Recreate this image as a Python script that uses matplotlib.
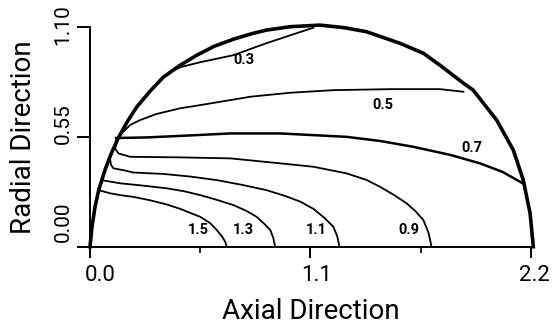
import matplotlib
matplotlib.use("Agg")
import matplotlib.pyplot as plt
from matplotlib.transforms import ScaledTranslation

plt.rcParams['font.family'] = ['Roboto', 'DejaVu Sans']

# outer boundary of the domain
wall_x = [0.0, 0.01, 0.025, 0.045, 0.075, 0.105, 0.14, 0.185, 0.233, 0.30, 0.366, 0.45,
          0.533, 0.62, 0.715, 0.80, 0.88, 1.0, 1.148, 1.27, 1.38, 1.547, 1.664, 1.747,
          1.864, 1.913, 2.03, 2.113, 2.163, 2.197, 2.213]
wall_y = [0.0, 0.10, 0.20, 0.29, 0.385, 0.465, 0.543, 0.625, 0.70, 0.78, 0.85, 0.91,
          0.96, 1.005, 1.04, 1.066, 1.086, 1.103, 1.111, 1.098, 1.078, 1.02, 0.97, 0.91,
          0.82, 0.785, 0.635, 0.485, 0.334, 0.167, 0.0]

# contour lines
levels = ["0.3", "0.5", "0.7", "0.9", "1.1", "1.3", "1.5"]
lines = {
    "0.3": ([0.40, 0.45, 0.55, 0.715, 0.88, 1.0, 1.115],
            [0.875, 0.90, 0.925, 0.96, 1.02, 1.06, 1.098]),
    "0.5": ([0.158, 0.20, 0.25, 0.33, 0.45, 0.55, 0.70, 0.80, 1.0, 1.215, 1.5, 1.747, 1.864],
            [0.568, 0.61, 0.635, 0.665, 0.694, 0.71, 0.735, 0.752, 0.772, 0.785, 0.79, 0.79, 0.777]),
    "0.7": ([0.13, 0.283, 0.50, 0.70, 0.95, 1.28, 1.45, 1.614, 1.80, 1.947, 2.06, 2.16],
            [0.545, 0.548, 0.558, 0.568, 0.568, 0.551, 0.53, 0.501, 0.46, 0.418, 0.375, 0.318]),
    "0.9": ([0.13, 0.133, 0.125, 0.142, 0.20, 0.45, 0.70, 0.95, 1.115, 1.28, 1.38, 1.447,
             1.52, 1.58, 1.625, 1.664, 1.69, 1.705],
            [0.545, 0.518, 0.493, 0.468, 0.451, 0.448, 0.443, 0.418, 0.401, 0.368, 0.335, 0.301,
             0.258, 0.218, 0.178, 0.134, 0.07, 0.0]),
    "1.1": ([0.10, 0.105, 0.117, 0.166, 0.217, 0.366, 0.50, 0.633, 0.76, 0.88, 0.97, 1.05,
             1.115, 1.17, 1.215, 1.235, 1.245],
            [0.44, 0.41, 0.393, 0.384, 0.372, 0.365, 0.352, 0.334, 0.31, 0.284, 0.256, 0.226,
             0.19, 0.145, 0.10, 0.05, 0.0]),
    "1.3": ([0.058, 0.15, 0.25, 0.383, 0.47, 0.55, 0.63, 0.716, 0.78, 0.832, 0.87, 0.90,
             0.915, 0.924],
            [0.334, 0.318, 0.308, 0.293, 0.278, 0.259, 0.236, 0.209, 0.18, 0.15, 0.115, 0.084,
             0.045, 0.0]),
    "1.5": ([0.042, 0.10, 0.15, 0.217, 0.30, 0.383, 0.45, 0.50, 0.55, 0.60, 0.633, 0.66,
             0.675, 0.683],
            [0.284, 0.268, 0.259, 0.25, 0.233, 0.212, 0.19, 0.17, 0.15, 0.118, 0.084, 0.05,
             0.025, 0.0]),
}
label_x = [0.77, 1.464, 1.905, 1.59, 1.13, 0.766, 0.54]
label_y = [0.935, 0.71, 0.493, 0.084, 0.083, 0.083, 0.083]

fig = plt.figure(figsize=(5.6, 3.29), dpi=100)
ax = fig.add_axes([0.1607, 0.25, 0.787, 0.667])

ax.plot(wall_x, wall_y, color='black', lw=2.6, clip_on=False, solid_joinstyle='round')
for lev in levels:
    xs, ys = lines[lev]
    lw = 1.8 if lev == "0.7" else 1.3
    ax.plot(xs, ys, color='black', lw=lw, clip_on=False)
for lev, tx, ty in zip(levels, label_x, label_y):
    ax.text(tx, ty, lev, fontsize=10.5, fontweight='bold', ha='center', va='center')

ax.set_xlim(0, 2.2)
ax.set_ylim(0, 1.1)
for s in ['top', 'right']:
    ax.spines[s].set_visible(False)
for s in ['left', 'bottom']:
    ax.spines[s].set_linewidth(1.4)

ax.set_xticks([0.0, 1.1, 2.2])
ax.set_xticklabels(["0.0", "1.1", "2.2"])
ax.set_xticks([0.55, 1.65], minor=True)
ax.set_yticks([0.0, 0.55, 1.1])
ax.set_yticklabels(["0.00", "0.55", "1.10"], rotation=90, va='center')
ax.tick_params(axis='x', which='major', length=8, width=1.4, labelsize=16, pad=5)
ax.tick_params(axis='x', which='minor', length=4, width=1.2)
ax.tick_params(axis='y', which='major', length=9.5, width=1.4, labelsize=15, pad=3)

# the tick labels in the original sit a little off their ticks
for lab, dx in zip(ax.get_xticklabels(), [10, 6, 4]):
    lab.set_transform(lab.get_transform() + ScaledTranslation(dx / 100, 0, fig.dpi_scale_trans))
for lab, dy in zip(ax.get_yticklabels(), [25, 13, 3]):
    lab.set_transform(lab.get_transform() + ScaledTranslation(0, dy / 100, fig.dpi_scale_trans))

ax.set_xlabel("Axial Direction", fontsize=20)
ax.set_ylabel("Radial Direction", fontsize=20)
ax.xaxis.set_label_coords(0.5, -0.234)
ax.yaxis.set_label_coords(-0.12, 0.5)

fig.savefig("out.png", dpi=100)
